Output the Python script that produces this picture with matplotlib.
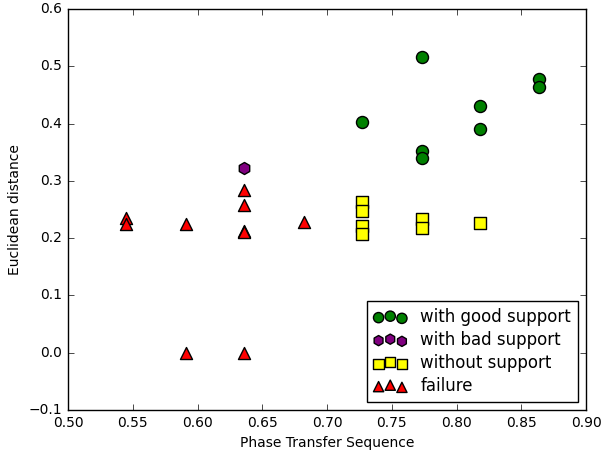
import numpy as np
import matplotlib
matplotlib.use('Agg')
from matplotlib import pyplot as plt

# good support
good_x = [0.727, 0.773, 0.773, 0.773, 0.818, 0.818, 0.864, 0.864]
good_y = [0.403, 0.517, 0.352, 0.340, 0.431, 0.391, 0.477, 0.463]

# bad support
bad_x = [0.636]
bad_y = [0.322]

# without support
nosup_x = [0.727, 0.727, 0.727, 0.727, 0.773, 0.773, 0.818]
nosup_y = [0.263, 0.248, 0.222, 0.208, 0.233, 0.217, 0.226]

# failure
fail_x = [0.545, 0.545, 0.591, 0.591, 0.636, 0.636, 0.636, 0.636, 0.636, 0.682]
fail_y = [0.236, 0.224, 0.224, 0.0, 0.284, 0.258, 0.213, 0.210, 0.0, 0.229]

plt.style.use('classic')
plt.rcParams['font.family'] = ['DejaVu Sans']

fig = plt.figure(figsize=(6.15, 4.51), dpi=100, facecolor='white')
ax = fig.add_axes([68/615, 1 - 410/451, (586 - 68)/615, (410 - 9)/451])

s = 75
ax.scatter(good_x, good_y, s=s, c='green', marker='o', edgecolors='black', label='with good support')
ax.scatter(bad_x, bad_y, s=s, c='purple', marker='h', edgecolors='black', label='with bad support')
ax.scatter(nosup_x, nosup_y, s=s, c='yellow', marker='s', edgecolors='black', label='without support')
ax.scatter(fail_x, fail_y, s=s, c='red', marker='^', edgecolors='black', label='failure')

ax.set_xlim(0.5, 0.9)
ax.set_ylim(-0.1, 0.6)
ax.set_xlabel('Phase Transfer Sequence', fontsize=10)
ax.set_ylabel('Euclidean distance', fontsize=10)
ax.tick_params(labelsize=10)

ax.legend(loc='lower right', fontsize=12, scatterpoints=3, markerscale=0.85,
          labelspacing=0.3)

fig.savefig('out.png', dpi=100, facecolor='white')
